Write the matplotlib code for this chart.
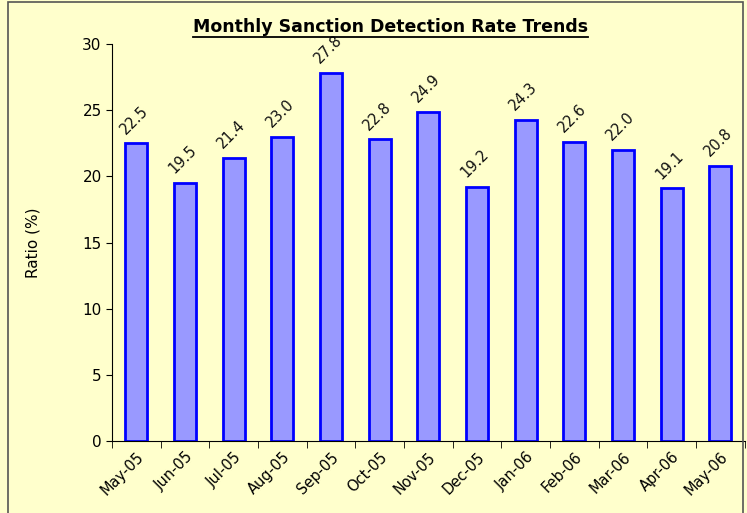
import numpy as np
import matplotlib.pyplot as plt
from matplotlib.patches import Rectangle

months = ['May-05', 'Jun-05', 'Jul-05', 'Aug-05', 'Sep-05', 'Oct-05', 'Nov-05',
          'Dec-05', 'Jan-06', 'Feb-06', 'Mar-06', 'Apr-06', 'May-06']
ratios = [22.5, 19.5, 21.4, 23.0, 27.8, 22.8, 24.9, 19.2, 24.3, 22.6, 22.0, 19.1, 20.8]

bg = '#FFFFCC'
fig = plt.figure(figsize=(7.47, 5.13), dpi=100, facecolor=bg)
ax = fig.add_axes([0.150, 0.140, 0.847, 0.774])
ax.set_facecolor(bg)

# outer chart border
fig.patches.append(Rectangle((0.011, -0.01), 0.984, 1.006, transform=fig.transFigure,
                             fill=False, edgecolor='#555555', linewidth=1.2))

x = np.arange(len(months))
ax.bar(x, ratios, width=0.45, color='#9999FF', edgecolor='#0000FF', linewidth=2)

for xi, v in zip(x, ratios):
    ax.text(xi - 0.05, v + 0.5, f'{v:.1f}', rotation=45, ha='center', va='bottom',
            fontsize=10.5, color='#111111')

ax.set_xlim(-0.5, len(months) - 0.5)
ax.set_ylim(0, 30)
ax.set_yticks(range(0, 31, 5))
ax.tick_params(axis='y', labelsize=11, direction='out', length=4)

ax.set_xticks(x)
ax.set_xticklabels(months, rotation=45, ha='right', rotation_mode='anchor', fontsize=10.5)
ax.tick_params(axis='x', which='major', length=0, pad=6)
ax.set_xticks(np.arange(len(months) + 1) - 0.5, minor=True)
ax.tick_params(axis='x', which='minor', length=5, direction='out')

for s in ['top', 'right']:
    ax.spines[s].set_visible(False)

ax.set_ylabel('Ratio (%)', fontsize=11, labelpad=30)

title = fig.text(0.523, 0.948, 'Monthly Sanction Detection Rate Trends', ha='center',
                 va='center', fontsize=12.5, fontweight='bold')
fig.canvas.draw()
bb = title.get_window_extent().transformed(fig.transFigure.inverted())
fig.add_artist(plt.Line2D([bb.x0, bb.x1], [bb.y0 - 0.002, bb.y0 - 0.002],
                          color='black', linewidth=1.3))

fig.savefig('out.png', dpi=100, facecolor=bg)
